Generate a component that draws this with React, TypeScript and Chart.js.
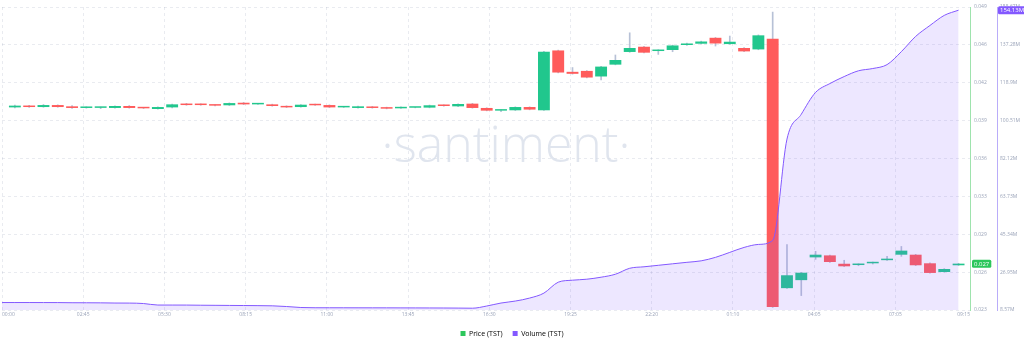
import React, { useEffect, useRef } from 'react';
import { Chart, registerables } from 'chart.js';

Chart.register(...registerables);

// ---------- data ----------
const xTickLabels = ['00:00', '02:45', '05:30', '08:15', '11:00', '13:45', '16:30', '19:25', '22:20', '01:10', '04:05', '07:05', '09:15'];

const priceTickLabels = ['0.023', '0.026', '0.029', '0.033', '0.036', '0.039', '0.042', '0.046', '0.049'];
const volumeTickLabels = ['8.57M', '26.95M', '45.34M', '63.73M', '82.12M', '100.51M', '118.9M', '137.28M', '155.67M'];

const candleOpen = [
  0.04024, 0.04039, 0.04027, 0.04044, 0.04033, 0.04019, 0.04020, 0.04019, 0.04036, 0.04022,
  0.04010, 0.04024, 0.04056, 0.04050, 0.04044, 0.04042, 0.04064, 0.04050, 0.04050, 0.04036,
  0.04027, 0.04050, 0.04044, 0.04024, 0.04019, 0.04030, 0.04024, 0.04016, 0.04021, 0.04022,
  0.04044, 0.04033, 0.04056, 0.04019, 0.03996, 0.03999, 0.04027, 0.03999, 0.04514, 0.04330,
  0.04338, 0.04290, 0.04392, 0.04501, 0.04546, 0.04509, 0.04518, 0.04561, 0.04572, 0.04623,
  0.04569, 0.04535, 0.04523, 0.04615, 0.02468, 0.02537, 0.02733, 0.02750, 0.02678, 0.02667,
  0.02682, 0.02709, 0.02756, 0.02756, 0.02682, 0.02607, 0.02665,
];
const candleHigh = [
  0.04043, 0.04041, 0.04049, 0.04046, 0.04040, 0.04029, 0.04027, 0.04038, 0.04040, 0.04024,
  0.04029, 0.04052, 0.04059, 0.04055, 0.04046, 0.04063, 0.04067, 0.04053, 0.04052, 0.04038,
  0.04049, 0.04052, 0.04046, 0.04026, 0.04035, 0.04032, 0.04026, 0.04029, 0.04024, 0.04044,
  0.04046, 0.04055, 0.04059, 0.04021, 0.04002, 0.04029, 0.04029, 0.04506, 0.04517, 0.04367,
  0.04341, 0.04378, 0.04475, 0.04666, 0.04549, 0.04520, 0.04560, 0.04577, 0.04594, 0.04626,
  0.04638, 0.04538, 0.04648, 0.04845, 0.02844, 0.02604, 0.02785, 0.02753, 0.02708, 0.02678,
  0.02693, 0.02742, 0.02827, 0.02759, 0.02685, 0.02636, 0.02682,
];
const candleLow = [
  0.04020, 0.04024, 0.04025, 0.04025, 0.04016, 0.04017, 0.04013, 0.04017, 0.04017, 0.04014,
  0.04008, 0.04019, 0.04042, 0.04042, 0.04037, 0.04040, 0.04048, 0.04049, 0.04034, 0.04022,
  0.04025, 0.04040, 0.04022, 0.04023, 0.04017, 0.04017, 0.04011, 0.04014, 0.04020, 0.04020,
  0.04034, 0.04031, 0.04017, 0.03994, 0.03988, 0.03997, 0.04003, 0.03997, 0.04321, 0.04310,
  0.04278, 0.04261, 0.04390, 0.04498, 0.04492, 0.04480, 0.04503, 0.04558, 0.04569, 0.04552,
  0.04566, 0.04503, 0.04520, 0.02303, 0.02465, 0.02404, 0.02716, 0.02690, 0.02654, 0.02661,
  0.02676, 0.02707, 0.02742, 0.02662, 0.02596, 0.02605, 0.02663,
];
const candleClose = [
  0.04039, 0.04027, 0.04044, 0.04027, 0.04019, 0.04027, 0.04021, 0.04036, 0.04019, 0.04016,
  0.04027, 0.04050, 0.04044, 0.04044, 0.04039, 0.04061, 0.04050, 0.04051, 0.04036, 0.04024,
  0.04047, 0.04042, 0.04024, 0.04025, 0.04033, 0.04019, 0.04013, 0.04027, 0.04023, 0.04042,
  0.04036, 0.04053, 0.04019, 0.03996, 0.03998, 0.04027, 0.04005, 0.04503, 0.04324, 0.04313,
  0.04281, 0.04375, 0.04432, 0.04535, 0.04495, 0.04518, 0.04557, 0.04574, 0.04591, 0.04574,
  0.04589, 0.04506, 0.04644, 0.02306, 0.02579, 0.02601, 0.02756, 0.02693, 0.02656, 0.02676,
  0.02691, 0.02720, 0.02791, 0.02665, 0.02599, 0.02633, 0.02679,
];

// volume (millions), sampled at each candle
const volume = [
  12.19, 12.19, 12.18, 12.17, 12.09, 12.08, 12.04, 11.95, 11.93, 11.71,
  10.98, 10.97, 10.96, 10.89, 10.84, 10.79, 10.74, 10.69, 10.6, 10.26,
  9.78, 9.66, 9.65, 9.64, 9.63, 9.62, 9.61, 9.6, 9.58, 9.56,
  9.54, 9.5, 9.44, 10.5, 11.95, 12.91, 14.36, 16.77, 22.07, 23.04,
  23.52, 24.49, 25.93, 28.83, 29.55, 30.27, 31.0, 31.72, 32.44, 34.13,
  36.54, 38.95, 40.4, 42.33, 91.53, 103.6, 114.2, 118.5, 121.9, 124.7,
  125.8, 127.7, 134.0, 141.4, 146.7, 151.6, 154.13,
];

// ---------- axis ranges / styles ----------
const PRICE_MIN = 0.0228;
const PRICE_MAX = 0.04888;
const VOL_MIN = 8.57;
const VOL_MAX = 155.67;
const X_MIN = -0.9;
const X_MAX = 66.8;
const X_TICK_STEP = 5.68;

const FONT = '"Open Sans", "DejaVu Sans", sans-serif';
const GREEN = '#21c78d';
const RED = '#ff5b5b';
const WICK = '#b7c1d6';
const PURPLE = '#8358ff';
const LEGEND_GREEN = '#2dc75c';
const TICK_COLOR = '#9aa3b8';
const GRID_COLOR = 'rgba(120,130,160,0.16)';

const watermarkPlugin = {
  id: 'watermark',
  beforeDatasetsDraw(chart: any) {
    const { ctx, chartArea } = chart;
    ctx.save();
    ctx.font = `300 50px ${FONT}`;
    ctx.fillStyle = 'rgba(214,220,232,0.75)';
    ctx.textAlign = 'center';
    ctx.textBaseline = 'middle';
    ctx.fillText('·santiment·', (chartArea.left + chartArea.right) / 2 + 20, 148);
    ctx.restore();
  },
};

const badgePlugin = {
  id: 'badges',
  afterDraw(chart: any) {
    const ctx = chart.ctx;
    const draw = (scale: any, value: number, text: string, color: string, dx: number) => {
      const py = scale.getPixelForValue(value);
      ctx.save();
      ctx.font = `6px ${FONT}`;
      const w = ctx.measureText(text).width + 4;
      const h = 8;
      const x = scale.left + dx;
      ctx.fillStyle = color;
      ctx.beginPath();
      ctx.roundRect(x, py - h / 2, w, h, 1.5);
      ctx.fill();
      ctx.fillStyle = '#ffffff';
      ctx.textAlign = 'left';
      ctx.textBaseline = 'middle';
      ctx.fillText(text, x + 2, py + 0.5);
      ctx.restore();
    };
    const lastPrice = candleClose[candleClose.length - 1];
    const lastVol = volume[volume.length - 1];
    draw(chart.scales.y, lastPrice, lastPrice.toFixed(3), LEGEND_GREEN, 2);
    draw(chart.scales.v, lastVol, lastVol.toFixed(2) + 'M', PURPLE, 1);
  },
};

function evenTicks(min: number, max: number, n: number) {
  return Array.from({ length: n }, (_, k) => ({ value: min + (k * (max - min)) / (n - 1) }));
}

export default function App() {
  const ref = useRef<HTMLCanvasElement | null>(null);

  useEffect(() => {
    if (!ref.current) return;
    const bodyColors = candleOpen.map((o, i) => (candleClose[i] >= o ? GREEN : RED));
    const chart = new Chart(ref.current, {
      type: 'bar',
      data: {
        datasets: [
          {
            label: 'wick',
            data: candleLow.map((l, i) => ({ x: i, y: [l, candleHigh[i]] })) as any,
            backgroundColor: WICK,
            barThickness: 1,
            grouped: false,
            yAxisID: 'y',
            order: 2,
          } as any,
          {
            label: 'Price (TST)',
            data: candleOpen.map((o, i) => ({ x: i, y: [o, candleClose[i]] })) as any,
            backgroundColor: bodyColors,
            barPercentage: 0.83,
            categoryPercentage: 1,
            minBarLength: 1.5,
            grouped: false,
            yAxisID: 'y',
            order: 1,
          } as any,
          {
            type: 'line',
            label: 'Volume (TST)',
            data: [{ x: X_MIN, y: volume[0] }, ...volume.map((v, i) => ({ x: i, y: v }))] as any,
            borderColor: PURPLE,
            borderWidth: 1,
            backgroundColor: 'rgba(131,88,255,0.14)',
            fill: 'start',
            pointRadius: 0,
            tension: 0.3,
            cubicInterpolationMode: 'monotone',
            yAxisID: 'v',
            order: 0,
          } as any,
        ],
      },
      options: {
        responsive: true,
        maintainAspectRatio: false,
        animation: false,
        events: [],
        layout: { padding: { top: 4, left: 0, right: 0, bottom: 0 } },
        plugins: {
          tooltip: { enabled: false },
          legend: {
            position: 'bottom',
            labels: {
              boxWidth: 5,
              boxHeight: 5,
              padding: 10,
              color: '#3b4050',
              font: { size: 7, family: FONT },
              generateLabels: () => [
                { text: 'Price (TST)', fillStyle: LEGEND_GREEN, strokeStyle: LEGEND_GREEN, lineWidth: 0, hidden: false, datasetIndex: 1 },
                { text: 'Volume (TST)', fillStyle: PURPLE, strokeStyle: PURPLE, lineWidth: 0, hidden: false, datasetIndex: 2 },
              ] as any,
            },
          },
        },
        scales: {
          x: {
            type: 'linear',
            min: X_MIN,
            max: X_MAX,
            offset: false,
            afterBuildTicks: (s: any) => {
              const last = xTickLabels.length - 1;
              s.ticks = xTickLabels.map((_, k) => ({ value: k === last ? X_MAX : X_MIN + k * X_TICK_STEP }));
            },
            ticks: {
              callback: (_v: any, i: number) => xTickLabels[i],
              align: 'inner',
              autoSkip: false,
              maxRotation: 0,
              padding: 2,
              color: TICK_COLOR,
              font: { size: 5, family: FONT },
            },
            grid: { color: GRID_COLOR, drawTicks: false, offset: false },
            border: { display: false, dash: [3, 3] },
          } as any,
          y: {
            type: 'linear',
            position: 'right',
            min: PRICE_MIN,
            max: PRICE_MAX,
            afterBuildTicks: (s: any) => {
              s.ticks = evenTicks(PRICE_MIN, PRICE_MAX, priceTickLabels.length);
            },
            afterFit: (s: any) => {
              s.width = 27;
            },
            ticks: {
              callback: (_v: any, i: number) => priceTickLabels[i],
              padding: 4,
              color: TICK_COLOR,
              font: { size: 5, family: FONT },
            },
            grid: { color: GRID_COLOR, drawTicks: false },
            border: { display: true, color: '#9ee3ad', width: 1, dash: [3, 3] },
          } as any,
          v: {
            type: 'linear',
            position: 'right',
            min: VOL_MIN,
            max: VOL_MAX,
            afterBuildTicks: (s: any) => {
              s.ticks = evenTicks(VOL_MIN, VOL_MAX, volumeTickLabels.length);
            },
            afterFit: (s: any) => {
              s.width = 27;
            },
            ticks: {
              callback: (_v: any, i: number) => volumeTickLabels[i],
              padding: 3,
              color: TICK_COLOR,
              font: { size: 5, family: FONT },
            },
            grid: { display: true, drawOnChartArea: false, drawTicks: false },
            border: { display: true, color: '#b9acf9', width: 1 },
          } as any,
        },
      },
      plugins: [watermarkPlugin, badgePlugin],
    });
    return () => chart.destroy();
  }, []);

  return (
    <div style={{ position: 'fixed', left: 0, top: 0, width: 1024, height: 347, background: '#ffffff' }}>
      <canvas ref={ref} />
    </div>
  );
}
